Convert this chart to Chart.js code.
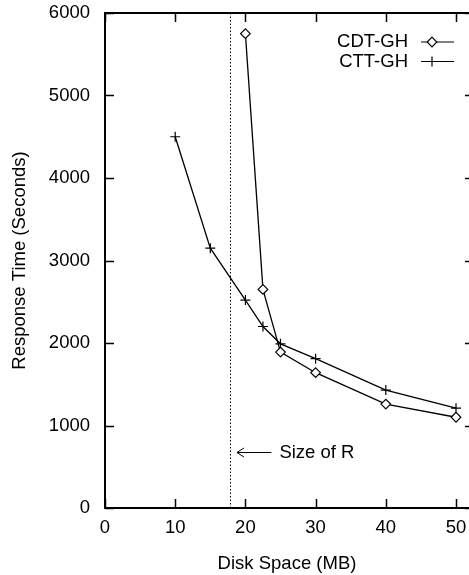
<!DOCTYPE html>
<html>
<head>
<meta charset="utf-8">
<title>Response Time vs Disk Space</title>
<script src="https://cdn.jsdelivr.net/npm/chart.js@4"></script>
<style>
    html, body { margin: 0; padding: 0; background: #fff; }
    canvas { display: block; }
</style>
</head>
<body>
<canvas id="space-chart" width="469" height="575"></canvas>
<script>
// Disk space (MB) and response time (seconds) for each method
const diskCdt = [20, 22.5, 25, 30, 40, 50];
const timeCdt = [5750, 2650, 1890, 1640, 1260, 1100];

const diskCtt = [10, 15, 20, 22.5, 25, 30, 40, 50];
const timeCtt = [4500, 3150, 2520, 2200, 1990, 1810, 1430, 1210];

const seriesNames = ['CDT-GH', 'CTT-GH'];

// Axis ticks
const xTicks = [0, 10, 20, 30, 40, 50];
const yTicks = [0, 1000, 2000, 3000, 4000, 5000, 6000];

// Marker for the size of relation R, and the arrow pointing at it
const sizeOfR = 17.8;
const arrowFrom = 23.7;
const arrowTo = 18.8;
const arrowLevel = 680;
const sizeOfRLabel = 'Size of R';

const FONT = "'Liberation Sans', Arial, Helvetica, sans-serif";
const FONT_SIZE = 18.5;
const INK = '#000';
const TICK_LEN = 9;
// the right frame edge sits just past the canvas, only its ticks show
const RIGHT_OVERHANG = 5;

Chart.defaults.font.family = FONT;
Chart.defaults.font.size = FONT_SIZE;
Chart.defaults.color = INK;

function toPoints(xs, ys) {
    return xs.map((x, i) => ({ x: x, y: ys[i] }));
}

// Keep the scales from pulling the plot in for their edge labels
function noEdgePadding(scale) {
    scale.paddingLeft = 0;
    scale.paddingRight = 0;
    scale.paddingTop = 0;
    scale.paddingBottom = 0;
}

// Frame, inward tick marks, the dotted R line and the legend
const framePlugin = {
    id: 'frame',
    afterDatasetsDraw(chart) {
        const ctx = chart.ctx;
        const area = chart.chartArea;
        const xs = chart.scales.x;
        const ys = chart.scales.y;
        const frameRight = area.right + RIGHT_OVERHANG;

        ctx.save();
        ctx.strokeStyle = INK;

        // top and right border
        ctx.lineWidth = 2;
        ctx.beginPath();
        ctx.moveTo(area.left, area.top);
        ctx.lineTo(frameRight, area.top);
        ctx.lineTo(frameRight, area.bottom);
        ctx.stroke();

        // tick marks pointing into the plot
        ctx.lineWidth = 1.5;
        ctx.beginPath();
        xTicks.forEach(v => {
            const px = Math.round(xs.getPixelForValue(v)) + 0.5;
            ctx.moveTo(px, area.bottom);
            ctx.lineTo(px, area.bottom - TICK_LEN);
            ctx.moveTo(px, area.top);
            ctx.lineTo(px, area.top + TICK_LEN);
        });
        yTicks.forEach(v => {
            const py = Math.round(ys.getPixelForValue(v)) + 0.5;
            ctx.moveTo(area.left, py);
            ctx.lineTo(area.left + TICK_LEN, py);
            ctx.moveTo(frameRight, py);
            ctx.lineTo(frameRight - TICK_LEN, py);
        });
        ctx.stroke();

        // dotted line at the size of R
        const rx = Math.round(xs.getPixelForValue(sizeOfR)) + 0.5;
        ctx.lineWidth = 1;
        ctx.setLineDash([1.5, 2]);
        ctx.beginPath();
        ctx.moveTo(rx, area.top);
        ctx.lineTo(rx, area.bottom);
        ctx.stroke();
        ctx.setLineDash([]);

        // arrow and label
        const ay = Math.round(ys.getPixelForValue(arrowLevel)) + 0.5;
        const ax0 = xs.getPixelForValue(arrowFrom);
        const ax1 = xs.getPixelForValue(arrowTo);
        ctx.lineWidth = 1;
        ctx.beginPath();
        ctx.moveTo(ax0, ay);
        ctx.lineTo(ax1, ay);
        ctx.moveTo(ax1 + 7, ay - 4.5);
        ctx.lineTo(ax1, ay);
        ctx.lineTo(ax1 + 7, ay + 4.5);
        ctx.stroke();

        ctx.fillStyle = INK;
        ctx.font = FONT_SIZE + 'px ' + FONT;
        ctx.textAlign = 'left';
        ctx.textBaseline = 'middle';
        ctx.fillText(sizeOfRLabel, ax0 + 8, ay);

        // legend: name, then a line sample with the marker on it
        chart.data.datasets.forEach((ds, i) => {
            const ly = 42 + i * 19.5;
            ctx.textAlign = 'right';
            ctx.fillText(ds.label, 408, ly);
            ctx.lineWidth = 1;
            ctx.beginPath();
            ctx.moveTo(421, ly);
            ctx.lineTo(454, ly);
            ctx.stroke();
            drawMarker(ctx, ds.pointStyle, 432, ly, ds.pointRadius);
        });

        ctx.restore();
    }
};

function drawMarker(ctx, style, x, y, r) {
    ctx.beginPath();
    if (style === 'rectRot') {
        ctx.moveTo(x, y - r);
        ctx.lineTo(x + r, y);
        ctx.lineTo(x, y + r);
        ctx.lineTo(x - r, y);
        ctx.closePath();
        ctx.fillStyle = '#fff';
        ctx.fill();
    } else {
        ctx.moveTo(x - r, y);
        ctx.lineTo(x + r, y);
        ctx.moveTo(x, y - r);
        ctx.lineTo(x, y + r);
    }
    ctx.lineWidth = 1.2;
    ctx.stroke();
    ctx.fillStyle = INK;
}

const spaceChart = new Chart(document.getElementById('space-chart').getContext('2d'), {
    type: 'line',
    data: {
        datasets: [
            {
                label: seriesNames[0],
                data: toPoints(diskCdt, timeCdt),
                borderColor: INK,
                borderWidth: 1.3,
                backgroundColor: '#fff',
                pointStyle: 'rectRot',
                pointRadius: 4.8,
                pointBorderWidth: 1.2,
                pointBorderColor: INK,
                pointBackgroundColor: '#fff',
                tension: 0
            },
            {
                label: seriesNames[1],
                data: toPoints(diskCtt, timeCtt),
                borderColor: INK,
                borderWidth: 1.3,
                pointStyle: 'cross',
                pointRadius: 5,
                pointBorderWidth: 1.2,
                pointBorderColor: INK,
                tension: 0
            }
        ]
    },
    options: {
        responsive: false,
        animation: false,
        devicePixelRatio: 1,
        layout: {
            autoPadding: false,
            padding: { left: 0, top: 13, right: 0, bottom: 0 }
        },
        plugins: {
            legend: { display: false },
            tooltip: { enabled: false }
        },
        scales: {
            x: {
                type: 'linear',
                min: 0,
                max: 51.85,
                afterFit(scale) {
                    scale.height = 67;
                    noEdgePadding(scale);
                },
                afterBuildTicks(scale) { scale.ticks = xTicks.map(v => ({ value: v })); },
                grid: { display: true, drawOnChartArea: false, drawTicks: false },
                border: { display: true, color: INK, width: 2 },
                ticks: {
                    padding: 9,
                    color: INK,
                    font: { size: FONT_SIZE },
                    callback: v => String(v)
                },
                title: {
                    display: true,
                    text: 'Disk Space (MB)',
                    color: INK,
                    font: { size: FONT_SIZE },
                    padding: { top: 0, bottom: 0 }
                }
            },
            y: {
                type: 'linear',
                min: 0,
                max: 6000,
                afterFit(scale) {
                    scale.width = 105;
                    noEdgePadding(scale);
                },
                afterBuildTicks(scale) { scale.ticks = yTicks.map(v => ({ value: v })); },
                grid: { display: true, drawOnChartArea: false, drawTicks: false },
                border: { display: true, color: INK, width: 2 },
                ticks: {
                    padding: 15,
                    color: INK,
                    font: { size: FONT_SIZE },
                    callback: v => String(v)
                },
                title: {
                    display: true,
                    text: 'Response Time (Seconds)',
                    color: INK,
                    font: { size: FONT_SIZE },
                    padding: { top: 9, bottom: 0 }
                }
            }
        }
    },
    plugins: [framePlugin]
});
</script>
</body>
</html>
